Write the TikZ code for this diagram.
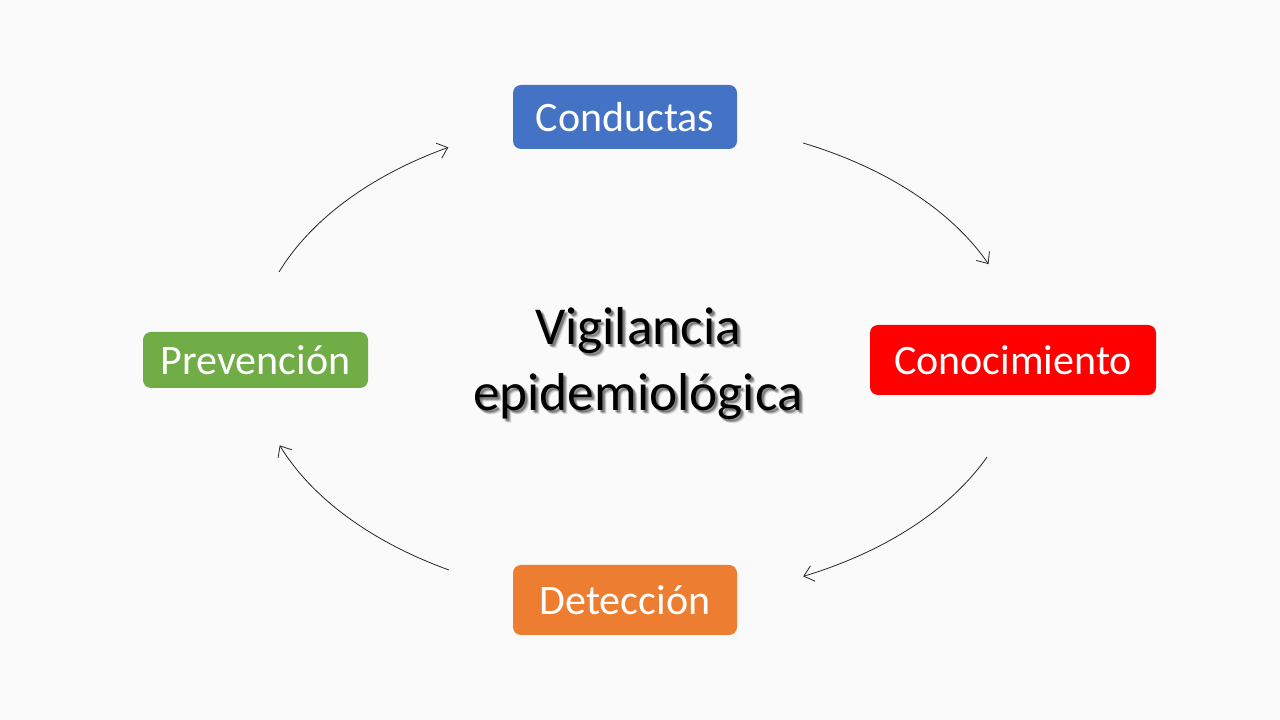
\documentclass[tikz,border=0pt]{standalone}
\usepackage{fontspec}
\setmainfont{Carlito}
\usetikzlibrary{arrows.meta}
\definecolor{bgc}{HTML}{FAFAFA}
\definecolor{cblue}{HTML}{4472C4}
\definecolor{cred}{HTML}{FF0000}
\definecolor{corange}{HTML}{ED7D31}
\definecolor{cgreen}{HTML}{70AD47}
\tikzset{
  box/.style={rounded corners=6pt, inner sep=0pt, text=white, font=\fontsize{31.5}{38}\selectfont},
  cyc/.style={draw=black!85, line width=0.6pt, -{Straight Barb[length=7pt,width=12pt]}},
  title/.style={font=\fontsize{40}{48}\selectfont, inner sep=0pt, anchor=base},
  shadowtxt/.style={title, text=black, opacity=0.13},
}
\begin{document}
\begin{tikzpicture}[x=0.75pt,y=0.75pt]
\fill[bgc] (0,0) rectangle (1280,720);
\useasboundingbox (0,0) rectangle (1280,720);

% boxes
\node[box, fill=cblue, minimum width=224*0.75pt, minimum height=64*0.75pt] (cond) at (625,603) {Conductas};
\node[box, fill=cred, minimum width=286*0.75pt, minimum height=70*0.75pt] (cono) at (1013,360) {Conocimiento};
\node[box, fill=corange, minimum width=224*0.75pt, minimum height=70*0.75pt] (dete) at (625,120) {Detección};
\node[box, fill=cgreen, minimum width=225*0.75pt, minimum height=56*0.75pt] (prev) at (255.5,360) {Prevención};

% title shadow
\foreach \dx/\dy [count=\i] in {2/-2,3/-3,2/-3,3/-2,4/-4} {
  \node[shadowtxt] (sa\i) at (638+\dx,375+\dy) {Vigilancia};
  \node[shadowtxt] (sb\i) at (638+\dx,309+\dy) {epidemiológica};
}
\node[title] (v1) at (638,375) {Vigilancia};
\node[title] (v2) at (638,309) {epidemiológica};

% arc endpoints
\coordinate (a1) at (803,577);
\coordinate (a2) at (987,263);
\coordinate (a3) at (449,150);
\coordinate (a4) at (279,448);

\draw[cyc] (a1) arc[start angle=64.6, end angle=23.5, x radius=380, y radius=240];
\draw[cyc] (a2) arc[start angle=-23.9, end angle=-64.5, x radius=380, y radius=240];
\draw[cyc] (a3) arc[start angle=240.3, end angle=201.1, x radius=387, y radius=245];
\draw[cyc] (a4) arc[start angle=158.9, end angle=119.7, x radius=387, y radius=245];
\end{tikzpicture}
\end{document}
